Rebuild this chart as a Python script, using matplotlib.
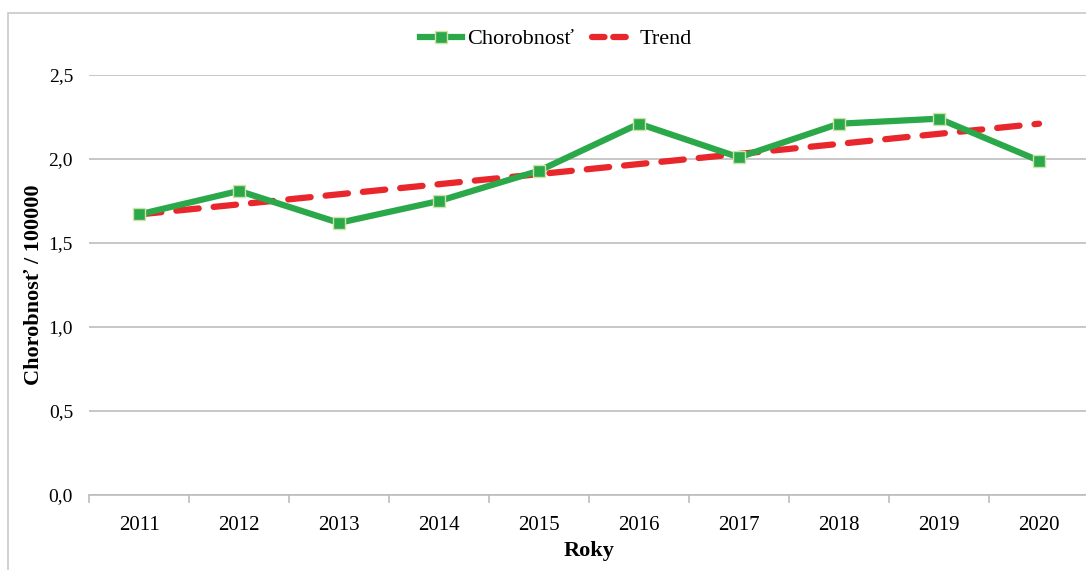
import numpy as np
import matplotlib
matplotlib.use("Agg")
import matplotlib.pyplot as plt
from matplotlib.lines import Line2D
from matplotlib.patches import Rectangle

# ── Data ──────────────────────────────────────────────────────────────────────
years = ["2011", "2012", "2013", "2014", "2015", "2016", "2017", "2018", "2019", "2020"]
morbidity = [1.67, 1.81, 1.62, 1.75, 1.93, 2.21, 2.01, 2.21, 2.24, 1.99]
trend_ends = [1.67, 2.21]          # trend line value in first / last year

y_ticks = [0.0, 0.5, 1.0, 1.5, 2.0, 2.5]

GREEN = "#2aa84a"
RED = "#e8262b"
GRID = "#bdbdbd"

plt.rcParams["font.family"] = ["Liberation Serif", "DejaVu Serif"]

fig = plt.figure(figsize=(10.86, 5.70), dpi=100)
ax = fig.add_axes([89 / 1086, 1 - 495 / 570, 1000 / 1086, 420 / 570])

x = np.arange(len(years))

# trend (drawn first, under the series)
ax.plot([x[0], x[-1]], trend_ends, color=RED, lw=4.5, ls=(0, (3.6, 2.4)),
        dash_capstyle="round", zorder=3)
ax.plot(x, morbidity, color=GREEN, lw=4.5, marker="s", ms=8,
        mfc=GREEN, mec="#cfe3a8", mew=1.0, zorder=4)

ax.set_xlim(-0.5, len(years) - 0.5)
ax.set_ylim(0, 2.5)

# y axis: grid only, no spine
ax.set_yticks(y_ticks)
ax.set_yticklabels([f"{v:.1f}".replace(".", ",") for v in y_ticks], fontsize=14)
ax.tick_params(axis="y", length=0, pad=11.5)
ax.yaxis.grid(True, color=GRID, lw=1.2)
ax.set_axisbelow(True)

# x axis: tick marks between categories, labels centred
ax.set_xticks(np.arange(-0.5, len(years)), minor=False)
ax.set_xticklabels([])
ax.set_xticks(x, minor=True)
ax.set_xticklabels(years, minor=True, fontsize=15)
ax.tick_params(axis="x", which="major", length=6, width=1.2, color=GRID)
ax.tick_params(axis="x", which="minor", length=0, pad=15)

for side in ("left", "right", "top"):
    ax.spines[side].set_visible(False)
ax.spines["bottom"].set_color(GRID)
ax.spines["bottom"].set_linewidth(1.2)

ax.set_xlabel("Roky", fontsize=16, fontweight="bold")
ax.xaxis.set_label_coords(0.5, -(551 - 495) / 420, transform=ax.transAxes)
ax.set_ylabel("Chorobnosť / 100000", fontsize=16, fontweight="bold")
ax.yaxis.set_label_coords(-(89 - 34) / 1000, 0.5, transform=ax.transAxes)
ax.xaxis.label.set_va("center")
ax.yaxis.label.set_va("center")

handles = [
    Line2D([], [], color=GREEN, lw=4.5, marker="s", ms=8, mfc=GREEN, mec="#cfe3a8"),
    Line2D([], [], color=RED, lw=4.5, ls=(0, (2.0, 1.4)), dash_capstyle="round"),
]
fig.legend(handles, ["Chorobnosť", "Trend"], loc="center", bbox_to_anchor=(556 / 1086, 1 - 39 / 570),
           ncol=2, frameon=False, fontsize=16, handlelength=1.9, handletextpad=0.25,
           columnspacing=0.8)

# outer chart frame
fig.patches.append(Rectangle((8 / 1086, -0.1), 1.2, 1 - 13 / 570 + 0.1,
                             transform=fig.transFigure, fill=False,
                             ec="#c8c8c8", lw=1.2))

fig.savefig("out.png", dpi=100)
